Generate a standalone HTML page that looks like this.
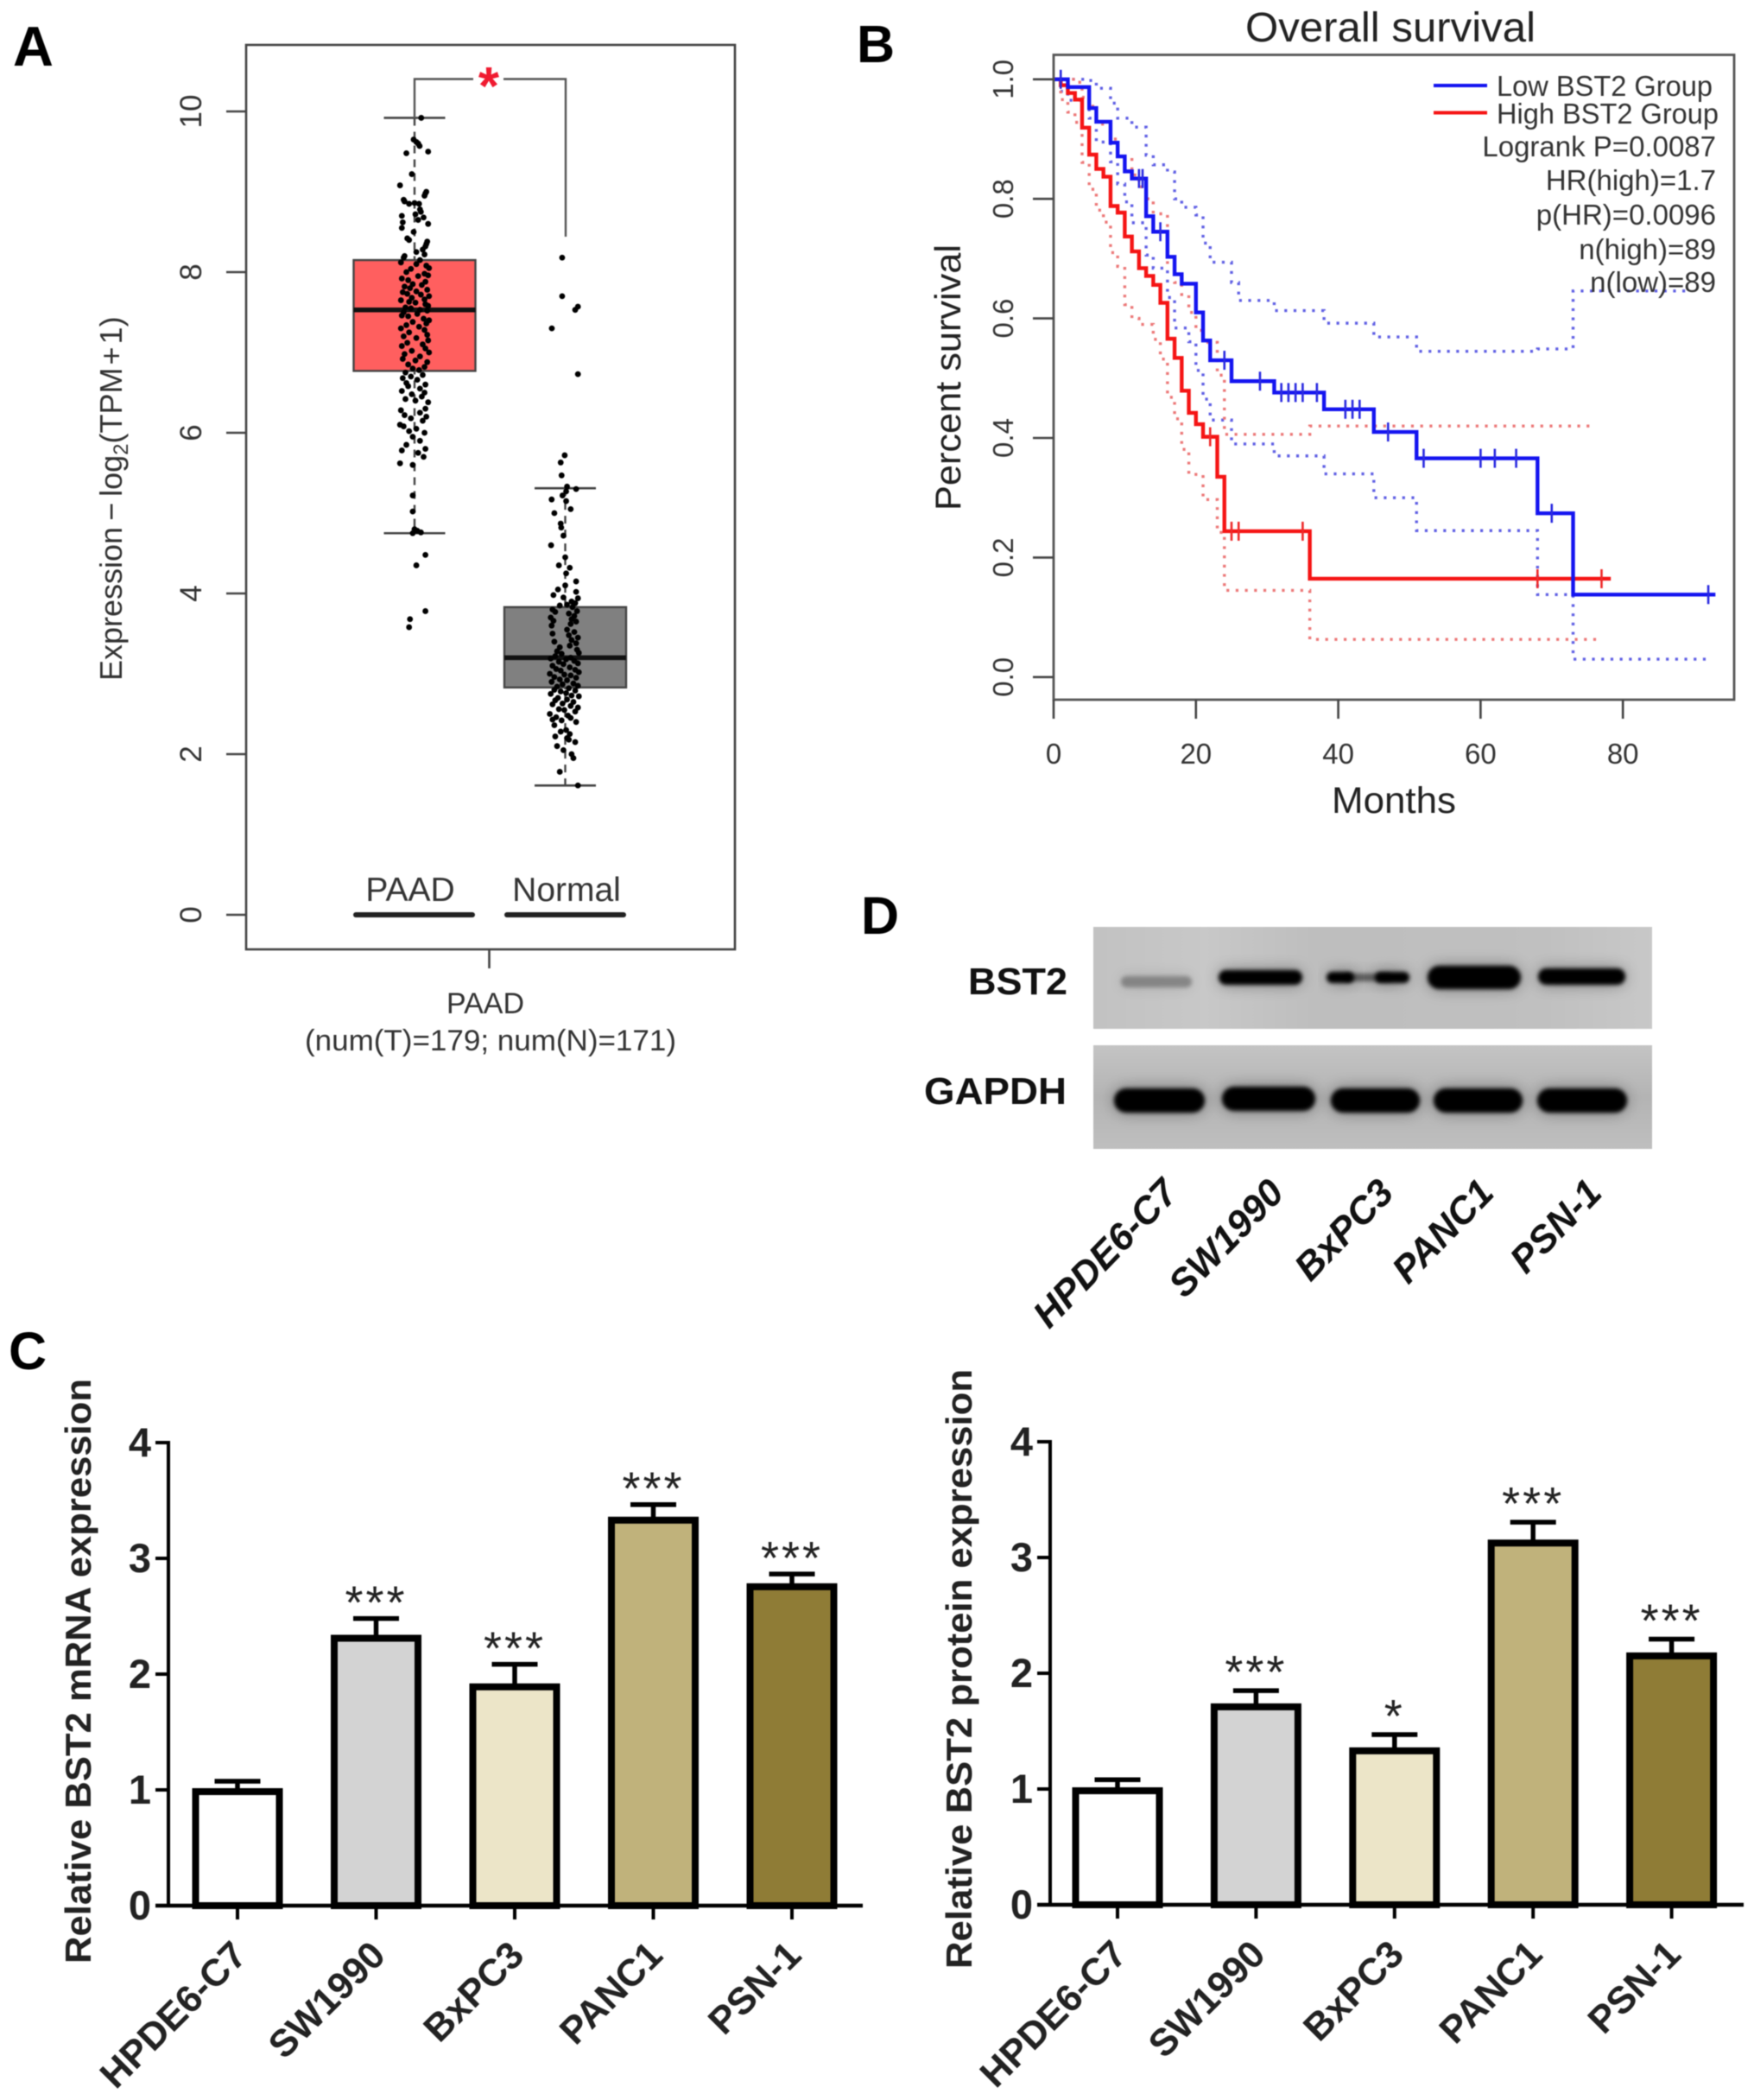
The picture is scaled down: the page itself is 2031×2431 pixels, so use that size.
<!DOCTYPE html>
<html lang="en">
<head>
<meta charset="utf-8">
<title>BST2 expression figure</title>
<style>
html,body{margin:0;padding:0;background:#fff;}
svg{display:block;font-family:"Liberation Sans",sans-serif;filter:blur(0.5px);}
</style>
</head>
<body>
<svg id="figure" xmlns="http://www.w3.org/2000/svg" width="2031" height="2431" viewBox="0 0 2031 2431">
<defs>
<filter id="blur-band" x="-30%" y="-150%" width="160%" height="400%">
<feGaussianBlur in="SourceGraphic" stdDeviation="2.4" result="core"/>
<feGaussianBlur in="SourceGraphic" stdDeviation="9" result="halo"/>
<feComponentTransfer in="halo" result="haloFaint"><feFuncA type="linear" slope="0.4"/></feComponentTransfer>
<feMerge><feMergeNode in="haloFaint"/><feMergeNode in="core"/></feMerge>
</filter>
<linearGradient id="blot-top" x1="0" y1="0" x2="1" y2="0"><stop offset="0" stop-color="#c2c2c2"/><stop offset="0.2" stop-color="#c8c8c8"/><stop offset="0.4" stop-color="#bebebe"/><stop offset="0.8" stop-color="#c0c0c0"/><stop offset="1" stop-color="#c8c8c8"/></linearGradient>
<linearGradient id="blot-bottom" x1="0" y1="0" x2="0" y2="1"><stop offset="0" stop-color="#c4c4c4"/><stop offset="0.5" stop-color="#b4b4b4"/><stop offset="1" stop-color="#bfbfbf"/></linearGradient>
</defs>
<rect width="2031" height="2431" fill="#fff"/>

<text x="15" y="76" font-size="65" font-weight="bold" fill="#000">A</text>
<text x="992" y="72" font-size="61" font-weight="bold" fill="#000">B</text>
<text x="10" y="1585" font-size="61" font-weight="bold" fill="#000">C</text>
<text x="997" y="1081" font-size="61" font-weight="bold" fill="#000">D</text>

<!-- Panel A -->
<g id="panel-a">
<rect x="285" y="52" width="566" height="1047" fill="none" stroke="#444" stroke-width="2.6"/>
<text transform="translate(141,788) rotate(-90)" font-size="36" fill="#333">Expression<tspan dx="7">−</tspan><tspan dx="7">log</tspan><tspan font-size="24" dy="7">2</tspan><tspan dy="-7">(TPM</tspan><tspan dx="3">+</tspan><tspan dx="3">1)</tspan></text>
<g id="a-ticks"></g>
<g id="a-boxes"></g>
<g id="a-points"></g>
<path d="M480 137 V91.5 H548 M583 91.5 H655 V274" fill="none" stroke="#555" stroke-width="2.4"/>
<text x="566" y="121" font-size="62" font-weight="bold" text-anchor="middle" fill="#f01a30">*</text>
<text x="475" y="1043" font-size="39" text-anchor="middle" fill="#333">PAAD</text>
<text x="656" y="1043" font-size="39" text-anchor="middle" fill="#333">Normal</text>
<rect x="409" y="1056" width="141" height="6" rx="3" fill="#222"/>
<rect x="584" y="1056" width="141" height="6" rx="3" fill="#222"/>
<line x1="566.5" y1="1099" x2="566.5" y2="1121" stroke="#444" stroke-width="2.6"/>
<text x="562" y="1173" font-size="34" text-anchor="middle" fill="#333">PAAD</text>
<text x="353" y="1216" font-size="34" textLength="430" lengthAdjust="spacingAndGlyphs" fill="#333">(num(T)=179; num(N)=171)</text>
</g>

<!-- Panel B -->
<g id="panel-b">
<text x="1442" y="48" font-size="48" textLength="336" lengthAdjust="spacingAndGlyphs" fill="#222">Overall survival</text>
<g id="b-curves"></g>
<rect x="1220" y="63.5" width="788" height="746.5" fill="none" stroke="#555" stroke-width="2.8"/>
<g id="b-ticks"></g>
<text transform="translate(1112,591) rotate(-90)" font-size="42" textLength="308" lengthAdjust="spacingAndGlyphs" fill="#222">Percent survival</text>
<text x="1547" y="941" font-size="43" textLength="144" lengthAdjust="spacingAndGlyphs" fill="#222" dx="-5">Months</text>
<line x1="1660" y1="99" x2="1722" y2="99" stroke="#1414f0" stroke-width="4"/>
<line x1="1660" y1="130.5" x2="1722" y2="130.5" stroke="#f51414" stroke-width="4"/>
<text x="1733" y="111" font-size="33" textLength="250" lengthAdjust="spacingAndGlyphs" fill="#333">Low BST2 Group</text>
<text x="1733" y="143" font-size="33" textLength="257" lengthAdjust="spacingAndGlyphs" fill="#333">High BST2 Group</text>
<text x="1987" y="181" font-size="33" text-anchor="end" fill="#333">Logrank P=0.0087</text>
<text x="1987" y="220" font-size="33" text-anchor="end" fill="#333">HR(high)=1.7</text>
<text x="1987" y="260" font-size="33" text-anchor="end" fill="#333">p(HR)=0.0096</text>
<text x="1987" y="300" font-size="33" text-anchor="end" fill="#333">n(high)=89</text>
<text x="1987" y="338" font-size="33" text-anchor="end" fill="#333">n(low)=89</text>
</g>

<!-- Panel D -->
<g id="panel-d">
<rect x="1266" y="1073" width="647" height="118" fill="url(#blot-top)"/>
<rect x="1266" y="1210" width="647" height="120" fill="url(#blot-bottom)"/>
<g id="d-bands"></g>
<text x="1121" y="1151" font-size="44" font-weight="bold" textLength="115" lengthAdjust="spacingAndGlyphs" fill="#111">BST2</text>
<text x="1070" y="1278" font-size="44" font-weight="bold" textLength="165" lengthAdjust="spacingAndGlyphs" fill="#111">GAPDH</text>
<g id="d-labels"></g>
</g>

<!-- Panel C -->
<g id="panel-c-mrna"></g>
<g id="panel-c-protein"></g>
<text transform="translate(105,2273) rotate(-90)" font-size="42" font-weight="bold" textLength="677" lengthAdjust="spacingAndGlyphs" fill="#222">Relative BST2 mRNA expression</text>
<text transform="translate(1125,2279) rotate(-90)" font-size="42" font-weight="bold" textLength="694" lengthAdjust="spacingAndGlyphs" fill="#222">Relative BST2 protein expression</text>
</svg>

<script>
// ---------- Panel A data ----------
var aTickValues = [0, 2, 4, 6, 8, 10];
var aTickLabels = ["0", "2", "4", "6", "8", "10"];
var aBoxQ1 = [6.77, 2.83];
var aBoxMedian = [7.53, 3.2];
var aBoxQ3 = [8.15, 3.83];
var aWhiskerLow = [4.75, 1.61];
var aWhiskerHigh = [9.92, 5.31];
var paadValues = [9.92,9.65,9.62,9.6,9.57,9.5,9.48,9.22,9.08,9.0,8.98,8.95,8.9,8.88,8.86,8.85,8.85,8.78,8.75,8.72,8.7,8.68,8.65,8.62,8.6,8.55,8.5,8.42,8.4,8.38,8.35,8.32,8.28,8.25,8.22,8.2,8.18,8.15,8.12,8.1,8.08,8.05,8.04,8.0,7.98,7.96,7.95,7.92,7.9,7.88,7.85,7.84,7.82,7.8,7.78,7.76,7.75,7.73,7.72,7.7,7.68,7.66,7.65,7.63,7.62,7.6,7.58,7.56,7.55,7.53,7.52,7.5,7.48,7.46,7.45,7.42,7.4,7.38,7.36,7.34,7.32,7.3,7.28,7.25,7.22,7.2,7.18,7.15,7.12,7.1,7.08,7.05,7.02,7.0,6.98,6.95,6.92,6.9,6.88,6.85,6.82,6.8,6.78,6.75,6.72,6.7,6.68,6.66,6.62,6.6,6.58,6.55,6.52,6.5,6.48,6.45,6.42,6.4,6.38,6.3,6.28,6.25,6.22,6.2,6.18,6.15,6.1,6.08,6.05,6.02,6.0,5.95,5.9,5.85,5.8,5.78,5.75,5.7,5.62,5.6,5.22,5.02,4.8,4.78,4.76,4.75,4.48,4.35,3.78,3.68,3.58];
var paadJitter = [.37,-.05,.1,.2,.28,.75,-.45,-.15,-.8,.65,.6,.55,-.6,-.55,0,.25,-.3,.3,.35,.05,-.7,.5,.2,-.65,.75,-.7,-.05,-.4,-.3,.7,.65,.6,.45,.1,.55,-.55,-.6,.3,-.75,.1,.65,.8,-.2,-.45,.55,.75,.2,-.7,-.35,.6,-.1,.4,-.55,-.25,.7,.1,-.65,-.4,.35,.8,-.15,.55,-.75,-.3,.05,.6,.75,-.5,-.2,.3,.7,-.6,.15,-.7,-.35,.5,.8,-.1,.65,-.45,.25,-.75,.55,-.3,.7,-.6,.1,.75,-.4,.45,-.7,.6,-.15,.8,-.55,.3,-.65,.05,.7,-.35,.55,-.1,.25,-.5,.45,-.2,-.65,.15,-.45,.6,-.35,.3,-.7,.55,-.15,.4,-.5,.05,.75,.6,-.75,.3,-.55,.65,-.2,.45,-.8,-.6,.1,-.3,.55,-.1,.3,-.45,.6,-.7,.2,.5,-.8,-.1,-.1,-.1,.0,.15,.35,-.1,.6,.1,.6,-.25,-.3];
var normalValues = [8.18,7.7,7.57,7.53,7.3,6.73,5.72,5.63,5.47,5.33,5.3,5.27,5.22,5.17,5.15,5.05,5.0,4.87,4.82,4.72,4.6,4.45,4.35,4.32,4.25,4.15,4.1,4.05,4.02,3.98,3.95,3.94,3.9,3.88,3.86,3.85,3.83,3.8,3.78,3.77,3.75,3.72,3.7,3.68,3.66,3.65,3.62,3.6,3.55,3.52,3.5,3.48,3.45,3.42,3.4,3.38,3.35,3.33,3.3,3.28,3.26,3.25,3.22,3.2,3.19,3.18,3.16,3.15,3.13,3.12,3.1,3.08,3.06,3.05,3.04,3.02,3.0,2.99,2.98,2.96,2.95,2.93,2.92,2.9,2.88,2.87,2.85,2.84,2.82,2.8,2.79,2.78,2.76,2.75,2.73,2.72,2.7,2.68,2.67,2.65,2.63,2.62,2.6,2.58,2.56,2.55,2.53,2.5,2.48,2.46,2.45,2.43,2.42,2.4,2.36,2.3,2.28,2.25,2.22,2.2,2.18,2.15,2.1,2.05,2.0,1.95,1.78,1.61];
var normalJitter = [-.17,-.17,.7,.55,-.74,.7,-.03,-.25,-.2,.1,.6,.05,-.15,-.75,.05,.3,-.6,-.25,-.22,-.1,-.78,0,-.35,.25,.05,.6,0,-.4,.6,-.65,-.1,.7,.35,.55,.1,-.3,.4,-.7,.65,-.55,.2,.5,-.8,.35,-.65,.6,.3,-.75,.1,.5,-.7,.2,.7,.35,-.6,.6,.25,-.3,.65,-.45,.75,-.2,-.55,.3,-.8,.05,.5,-.35,.7,-.1,-.7,.25,-.5,.55,-.25,.75,-.85,-.05,.3,-.6,.6,-.3,.1,-.75,.45,-.15,.7,-.45,.2,-.6,.55,-.25,.05,-.8,.35,.75,-.4,.1,-.55,.45,-.15,-.7,.3,.7,-.35,-.05,.55,-.85,.15,-.5,.3,-.7,-.2,.6,-.6,.05,-.25,.25,-.55,.1,.2,.55,-.45,-.1,.35,.45,-.3,.7];

// ---------- Panel B data ----------
var bYTicks = [0, 0.2, 0.4, 0.6, 0.8, 1];
var bYTickLabels = ["0.0", "0.2", "0.4", "0.6", "0.8", "1.0"];
var bXTicks = [0, 20, 40, 60, 80];
var bXTickLabels = ["0", "20", "40", "60", "80"];
var lowMonths = [0,2,5,6,8,9,10,11,13,14,16,17,18,20,21,22,25,31,38,45,51,68,73,93];
var lowSurvival = [1,.987,.952,.929,.894,.871,.846,.834,.771,.745,.703,.674,.658,.61,.563,.53,.495,.476,.448,.41,.366,.274,.138,.138];
var highMonths = [0,1,2,3,4,5,6,7,8,9,10,11,12,13,14,15,16,17,18,19,20,21,23,24,36,78.3];
var highSurvival = [1,.99,.977,.966,.919,.874,.85,.837,.788,.777,.737,.712,.684,.671,.656,.626,.566,.534,.479,.442,.423,.402,.335,.244,.1645,.1645];
var lowUpperMonths = [0,5,6,8,9,11,13,14,16,17,18,20,21,22,25,26,31,38,45,51,68,73,89];
var lowUpperSurvival = [1,.998,.985,.96,.935,.92,.873,.857,.845,.80,.786,.773,.726,.694,.66,.63,.613,.592,.569,.545,.549,.646,.646];
var lowLowerMonths = [0,1,2,5,6,8,9,10,11,13,14,16,17,19,20,21,22,25,31,38,45,51,68,73,92];
var lowLowerSurvival = [1,.98,.965,.935,.895,.862,.825,.795,.76,.706,.684,.635,.584,.561,.513,.465,.43,.39,.37,.34,.30,.245,.138,.03,.03];
var highUpperMonths = [0,3,4,5,6,8,9,11,12,13,14,16,17,18,19,20,21,23,24,36,76];
var highUpperSurvival = [1,.995,.97,.955,.925,.90,.87,.84,.82,.80,.775,.69,.66,.64,.61,.58,.56,.505,.406,.42,.42];
var highLowerMonths = [0,1,2,3,4,5,6,7,8,9,10,11,12,14,15,16,17,18,19,21,23,24,36,77];
var highLowerSurvival = [1,.966,.945,.928,.861,.816,.781,.761,.71,.687,.623,.60,.59,.565,.532,.468,.432,.381,.339,.297,.242,.145,.063,.063];
var lowCensorMonths = [1,12,12.5,15,24,29,32,33,34,35,37,41,42,43,47,52,60,62,65,70,92];
var highCensorMonths = [22,25,26,35,68,77];

// ---------- Panel C data ----------
var cellLines = ["HPDE6-C7", "SW1990", "BxPC3", "PANC1", "PSN-1"];
var barTicks = [0, 1, 2, 3, 4];
var mrnaValues = [0.985, 2.31, 1.89, 3.33, 2.755];
var mrnaErrors = [1.075, 2.48, 2.085, 3.465, 2.865];
var mrnaStars = ["", "***", "***", "***", "***"];
var proteinValues = [0.985, 1.71, 1.33, 3.125, 2.15];
var proteinErrors = [1.08, 1.85, 1.47, 3.305, 2.295];
var proteinStars = ["", "***", "*", "***", "***"];
var barColors = ["#ffffff", "#d3d3d3", "#ece5c8", "#c0b27b", "#8f7c36"];

// ---------- Panel D data ----------
var bst2Intensity = [0.32, 1, 1, 1, 1];
var gapdhIntensity = [1, 1, 1, 1, 1];

var NS = "http://www.w3.org/2000/svg";
function make(tag, parent) {
  var el = document.createElementNS(NS, tag);
  parent.appendChild(el);
  return el;
}
function setAll(el, attrs) {
  for (var k in attrs) { el.setAttribute(k, attrs[k]); }
}
function byId(id) { return document.getElementById(id); }

// ---------- Panel A scales ----------
function aY(v) { return 1059 - v * 93; }
function aCatX(i) { return 480 + i * 174.5; }
function aJitX(i, j) { return aCatX(i) + j * 21; }

(function drawA() {
  var ticks = byId("a-ticks");
  for (var i = 0; i < aTickValues.length; i++) {
    var t = make("line", ticks);
    
    
    setAll(t, {x1: 262, x2: 285, y1: aY(aTickValues[i]), y2: aY(aTickValues[i]), stroke: "#444", "stroke-width": 2.6});
    var l = make("text", ticks);
    
    
    setAll(l, {transform: "translate(233," + aY(aTickValues[i]) + ") rotate(-90)", "font-size": 35, "text-anchor": "middle", fill: "#333"});
    l.textContent = aTickLabels[i];
  }
  var boxes = byId("a-boxes");
  var fills = ["#ff5f5f", "#808080"];
  var names = ["paad", "normal"];
  for (var b = 0; b < 2; b++) {
    var cx = aCatX(b);
    var w = make("line", boxes);
    
    
    setAll(w, {x1: cx, x2: cx, y1: aY(aWhiskerHigh[b]), y2: aY(aWhiskerLow[b]), stroke: "#444", "stroke-width": 2.4, "stroke-dasharray": "9 7"});
    var c1 = make("line", boxes);
    
    
    setAll(c1, {x1: cx - 35.5, x2: cx + 35.5, y1: aY(aWhiskerHigh[b]), y2: aY(aWhiskerHigh[b]), stroke: "#444", "stroke-width": 2.6});
    var c2 = make("line", boxes);
    
    
    setAll(c2, {x1: cx - 35.5, x2: cx + 35.5, y1: aY(aWhiskerLow[b]), y2: aY(aWhiskerLow[b]), stroke: "#444", "stroke-width": 2.6});
    var r = make("rect", boxes);
    
    
    setAll(r, {x: cx - 70.5, width: 141, y: aY(aBoxQ3[b]), height: aY(aBoxQ1[b]) - aY(aBoxQ3[b]), fill: fills[b], stroke: "#444", "stroke-width": 2.4});
    var m = make("line", boxes);
    
    
    setAll(m, {x1: cx - 70.5, x2: cx + 70.5, y1: aY(aBoxMedian[b]), y2: aY(aBoxMedian[b]), stroke: "#111", "stroke-width": 5.5});
  }
  var pts = byId("a-points");
  for (var p = 0; p < paadValues.length; p++) {
    var d = make("circle", pts);
    
    
    setAll(d, {cx: aJitX(0, paadJitter[p] || 0), cy: aY(paadValues[p]), r: 3.4, fill: "#000"});
  }
  for (var q = 0; q < normalValues.length; q++) {
    var e = make("circle", pts);
    
    
    setAll(e, {cx: aJitX(1, normalJitter[q] || 0), cy: aY(normalValues[q]), r: 3.4, fill: "#000"});
  }
})();

// ---------- Panel B scales ----------
function bX(m) { return 1220 + m * 8.24; }
function bY(s) { return 783.8 - s * 692; }
function stepPath(months, surv) {
  var d = "M" + bX(months[0]) + " " + bY(surv[0]);
  for (var i = 1; i < months.length; i++) {
    d += " H" + bX(months[i]) + " V" + bY(surv[i]);
  }
  return d;
}
function survivalAt(months, surv, m) {
  var s = surv[0];
  for (var i = 0; i < months.length; i++) {
    if (months[i] <= m) { s = surv[i]; }
  }
  return s;
}

(function drawB() {
  var curves = byId("b-curves");
  var ticks = byId("b-ticks");
  var i;
  for (i = 0; i < bYTicks.length; i++) {
    var t = make("line", ticks);
    
    
    setAll(t, {x1: 1196, x2: 1220, y1: bY(bYTicks[i]), y2: bY(bYTicks[i]), stroke: "#444", "stroke-width": 2.6});
    var l = make("text", ticks);
    
    
    setAll(l, {transform: "translate(1173," + bY(bYTicks[i]) + ") rotate(-90)", "font-size": 33, "text-anchor": "middle", fill: "#333"});
    l.textContent = bYTickLabels[i];
  }
  for (i = 0; i < bXTicks.length; i++) {
    var u = make("line", ticks);
    
    
    setAll(u, {y1: 810, y2: 832, x1: bX(bXTicks[i]), x2: bX(bXTicks[i]), stroke: "#444", "stroke-width": 2.6});
    var n = make("text", ticks);
    
    
    setAll(n, {x: bX(bXTicks[i]), y: 884, "font-size": 33, "text-anchor": "middle", fill: "#333"});
    n.textContent = bXTickLabels[i];
  }
  var dotStyle = {fill: "none", "stroke-width": 3.4, "stroke-dasharray": "3.2 7.5"};

  var lu = make("path", curves);
  
  
  setAll(lu, dotStyle);
  setAll(lu, {d: stepPath(lowUpperMonths, lowUpperSurvival), stroke: "#6060e4"});

  var ll = make("path", curves);
  
  
  setAll(ll, dotStyle);
  setAll(ll, {d: stepPath(lowLowerMonths, lowLowerSurvival), stroke: "#6060e4"});

  var hu = make("path", curves);
  
  
  setAll(hu, dotStyle);
  setAll(hu, {d: stepPath(highUpperMonths, highUpperSurvival), stroke: "#ec7878"});

  var hl = make("path", curves);
  
  
  setAll(hl, dotStyle);
  setAll(hl, {d: stepPath(highLowerMonths, highLowerSurvival), stroke: "#ec7878"});

  var hc = make("path", curves);
  
  
  setAll(hc, {d: stepPath(highMonths, highSurvival), fill: "none", stroke: "#f51414", "stroke-width": 4.4});

  var lc = make("path", curves);
  
  
  setAll(lc, {d: stepPath(lowMonths, lowSurvival), fill: "none", stroke: "#1414f0", "stroke-width": 4.4});

  for (i = 0; i < lowCensorMonths.length; i++) {
    var y1 = bY(survivalAt(lowMonths, lowSurvival, lowCensorMonths[i]));
    var c = make("line", curves);
    
    
    setAll(c, {x1: bX(lowCensorMonths[i]), x2: bX(lowCensorMonths[i]), y1: y1 - 11, y2: y1 + 11, stroke: "#2a2ae0", "stroke-width": 2.6});
  }
  for (i = 0; i < highCensorMonths.length; i++) {
    var y2 = bY(survivalAt(highMonths, highSurvival, highCensorMonths[i]));
    var h = make("line", curves);
    
    
    setAll(h, {x1: bX(highCensorMonths[i]), x2: bX(highCensorMonths[i]), y1: y2 - 11, y2: y2 + 11, stroke: "#ee2a2a", "stroke-width": 2.6});
  }
})();

// ---------- Panel D ----------
(function drawD() {
  var bands = byId("d-bands");
  var bstLeft = [1298, 1411, 1536, 1653, 1781];
  var bstRight = [1380, 1508, 1632, 1761, 1882];
  var bstTop = [1130, 1123, 1125, 1118, 1121];
  var bstBottom = [1143, 1140, 1138, 1145, 1140];
  var gapLeft = [1290, 1415, 1541, 1660, 1780];
  var gapRight = [1395, 1523, 1644, 1763, 1884];
  var gapTop = [1260, 1258, 1260, 1260, 1260];
  var i;
  for (i = 0; i < cellLines.length; i++) {
    var h = bstBottom[i] - bstTop[i];
    if (i === 2) {
      var b1 = make("rect", bands);
      
      
      setAll(b1, {x: bstLeft[i], width: 32, y: bstTop[i], height: h, rx: h / 2, fill: "#000", filter: "url(#blur-band)"});
      var b2 = make("rect", bands);
      
      
      setAll(b2, {x: bstLeft[i] + 20, width: 55, y: bstTop[i] + 2, height: h - 4, rx: 4, fill: "#000", opacity: 0.5, filter: "url(#blur-band)"});
      var b3 = make("rect", bands);
      
      
      setAll(b3, {x: bstRight[i] - 40, width: 40, y: bstTop[i], height: h, rx: h / 2, fill: "#000", filter: "url(#blur-band)"});
    } else {
      var b = make("rect", bands);
      
      
      setAll(b, {x: bstLeft[i], width: bstRight[i] - bstLeft[i], y: bstTop[i], height: h, rx: h / 2, fill: "#000", opacity: bst2Intensity[i], filter: "url(#blur-band)"});
    }
    var g = make("rect", bands);
    
    
    setAll(g, {x: gapLeft[i], width: gapRight[i] - gapLeft[i], y: gapTop[i], height: 28, rx: 14, fill: "#000", opacity: gapdhIntensity[i], filter: "url(#blur-band)"});
  }
  var labels = byId("d-labels");
  var ex = [1366, 1489, 1616, 1732, 1857];
  for (i = 0; i < cellLines.length; i++) {
    var t = make("text", labels);
    
    
    setAll(t, {transform: "translate(" + ex[i] + ",1383) rotate(-46)", "font-size": 44, "font-weight": "bold", "font-style": "italic", "text-anchor": "end", fill: "#111"});
    t.textContent = cellLines[i];
  }
})();

// ---------- Panel C ----------
function drawBars(parent, cfg, values, errors, stars) {
  function x(i) { return cfg.x0 + i * cfg.step; }
  function y(v) { return cfg.y0 - v * cfg.unit; }
  var i;
  for (i = 0; i < values.length; i++) {
    var e = make("line", parent);
    
    
    setAll(e, {x1: x(i), x2: x(i), y1: y(values[i]), y2: y(errors[i]), stroke: "#000", "stroke-width": 5.5});
    var c = make("line", parent);
    
    
    setAll(c, {x1: x(i) - 26.5, x2: x(i) + 26.5, y1: y(errors[i]), y2: y(errors[i]), stroke: "#000", "stroke-width": 5.5});
    var r = make("rect", parent);
    
    
    setAll(r, {x: x(i) - 48.5, width: 97, y: y(values[i]), height: cfg.y0 - y(values[i]), fill: barColors[i], stroke: "#000", "stroke-width": 8});
    if (stars[i]) {
      var s = make("text", parent);
      
      
      setAll(s, {x: x(i), y: y(errors[i]) + cfg.starOffset, "font-size": 54, "text-anchor": "middle", "letter-spacing": 3, fill: "#222"});
      s.textContent = stars[i];
    }
    var t = make("line", parent);
    
    
    setAll(t, {x1: x(i), x2: x(i), y1: cfg.y0, y2: cfg.y0 + 16, stroke: "#000", "stroke-width": 4});
    var l = make("text", parent);
    
    
    setAll(l, {transform: "translate(" + (x(i) + 13) + "," + (cfg.y0 + 60) + ") rotate(-45)", "font-size": 44, "font-weight": "bold", "text-anchor": "end", fill: "#222"});
    l.textContent = cellLines[i];
  }
  var ya = make("line", parent);
  
  
  setAll(ya, {x1: cfg.axisX, x2: cfg.axisX, y1: y(4) - 2, y2: cfg.y0 + 2, stroke: "#000", "stroke-width": 4});
  var xa = make("line", parent);
  
  
  setAll(xa, {x1: cfg.axisX - 15, x2: cfg.axisEnd, y1: cfg.y0, y2: cfg.y0, stroke: "#000", "stroke-width": 4.5});
  for (i = 0; i < barTicks.length; i++) {
    var yt = make("line", parent);
    
    
    setAll(yt, {x1: cfg.axisX - 15, x2: cfg.axisX, y1: y(barTicks[i]), y2: y(barTicks[i]), stroke: "#000", "stroke-width": 4});
    var yl = make("text", parent);
    
    
    setAll(yl, {x: cfg.axisX - 20, y: y(barTicks[i]) + 16, "font-size": 47, "font-weight": "bold", "text-anchor": "end", fill: "#222"});
    yl.textContent = String(barTicks[i]);
  }
}
drawBars(byId("panel-c-mrna"), {x0: 275, step: 160.5, y0: 2206, unit: 134, axisX: 195, axisEnd: 999, starOffset: 0}, mrnaValues, mrnaErrors, mrnaStars);
drawBars(byId("panel-c-protein"), {x0: 1294, step: 160.4, y0: 2205, unit: 134, axisX: 1216, axisEnd: 2019, starOffset: -3}, proteinValues, proteinErrors, proteinStars);
</script>
</body>
</html>
